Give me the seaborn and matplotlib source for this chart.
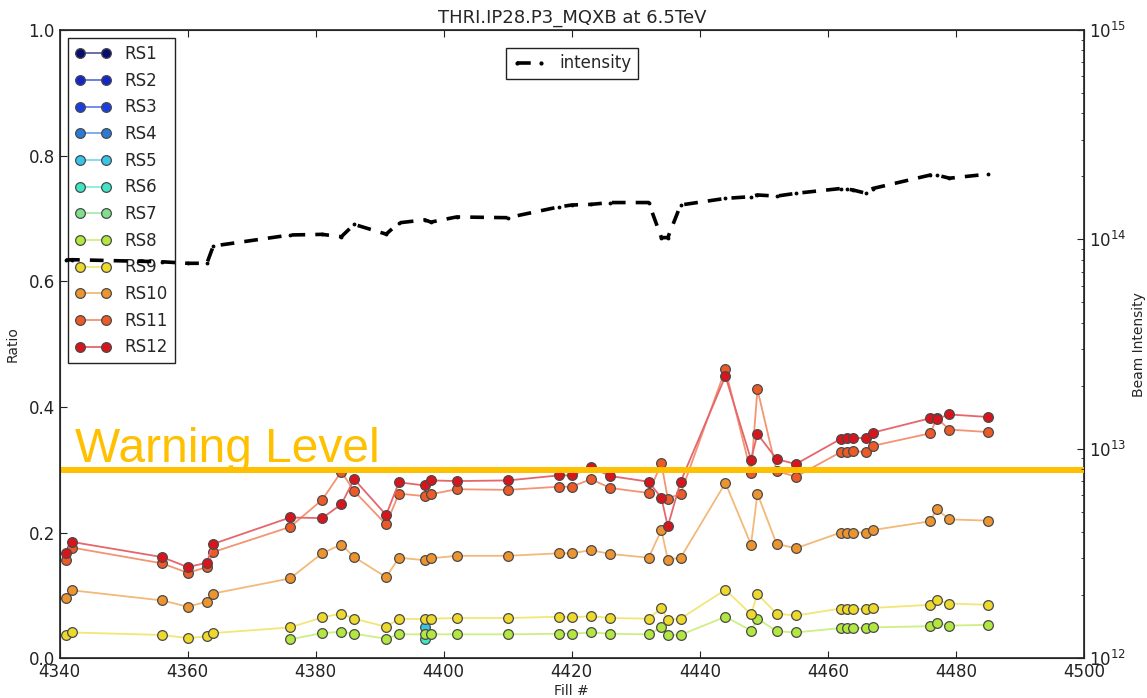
import numpy as np
import pandas as pd
import matplotlib
matplotlib.use("Agg")
import matplotlib.pyplot as plt
from matplotlib.lines import Line2D
from matplotlib.colors import to_rgb
import seaborn as sns

nan = np.nan

# fill numbers
fills = [4341, 4342, 4356, 4360, 4363, 4364, 4376, 4381, 4384, 4386, 4391, 4393,
         4397, 4398, 4402, 4410, 4418, 4420, 4423, 4426, 4432, 4434, 4435, 4437,
         4444, 4448, 4449, 4452, 4455, 4462, 4463, 4464, 4466, 4467, 4476, 4477,
         4479, 4485]

# ratio per sensor
rs12 = [0.168, 0.185, 0.161, 0.145, 0.152, 0.182, 0.224, 0.223, 0.245, 0.285, 0.228, 0.280,
        0.275, 0.283, 0.282, 0.283, 0.291, 0.291, 0.304, 0.290, 0.281, 0.255, 0.210, 0.281,
        0.449, 0.316, 0.357, 0.317, 0.309, 0.349, 0.350, 0.351, 0.350, 0.359, 0.382, 0.381,
        0.388, 0.384]
rs11 = [0.156, 0.176, 0.151, 0.136, 0.145, 0.169, 0.209, 0.252, 0.297, 0.266, 0.213, 0.262,
        0.258, 0.261, 0.269, 0.268, 0.273, 0.273, 0.285, 0.271, 0.263, 0.310, 0.254, 0.262,
        0.460, 0.295, 0.428, 0.298, 0.289, 0.328, 0.328, 0.330, 0.328, 0.338, 0.358, 0.382,
        0.364, 0.360]
rs10 = [0.096, 0.108, 0.092, 0.082, 0.090, 0.103, 0.127, 0.167, 0.181, 0.161, 0.129, 0.160,
        0.156, 0.159, 0.163, 0.163, 0.167, 0.167, 0.172, 0.166, 0.160, 0.204, 0.157, 0.160,
        0.279, 0.181, 0.262, 0.182, 0.175, 0.200, 0.200, 0.200, 0.200, 0.204, 0.218, 0.237,
        0.221, 0.219]
rs9 = [0.037, 0.041, 0.037, 0.032, 0.035, 0.040, 0.049, 0.065, 0.071, 0.063, 0.050, 0.063,
       0.062, 0.063, 0.064, 0.064, 0.066, 0.065, 0.067, 0.064, 0.063, 0.080, 0.061, 0.063,
       0.109, 0.070, 0.102, 0.071, 0.068, 0.079, 0.079, 0.079, 0.078, 0.080, 0.085, 0.092,
       0.087, 0.085]
rs8 = [nan, nan, nan, nan, nan, nan, 0.030, 0.040, 0.042, 0.039, 0.031, 0.038,
       0.038, 0.038, 0.038, 0.038, 0.039, 0.039, 0.041, 0.039, 0.038, 0.049, 0.037, 0.037,
       0.066, 0.044, 0.063, 0.043, 0.041, 0.048, 0.048, 0.048, 0.048, 0.049, 0.051, 0.056,
       0.052, 0.053]
# only one reading (fill 4397) for these
rs5 = [nan] * 12 + [0.050] + [nan] * 25
rs6 = [nan] * 12 + [0.031] + [nan] * 25
empty = [nan] * 38

# beam intensity (right axis)
intensity = [7.97e13, 8.0e13, 7.82e13, 7.69e13, 7.69e13, 9.3e13, 1.05e14, 1.057e14, 1.03e14,
             1.18e14, 1.06e14, 1.20e14, 1.24e14, 1.21e14, 1.28e14, 1.27e14, 1.43e14, 1.46e14,
             1.47e14, 1.50e14, 1.50e14, 1.02e14, 1.02e14, 1.46e14, 1.57e14, 1.60e14, 1.63e14,
             1.61e14, 1.66e14, 1.75e14, 1.74e14, 1.72e14, 1.66e14, 1.75e14, 2.03e14, 2.03e14,
             1.96e14, 2.05e14]

names = ["RS%d" % i for i in range(1, 13)]
series = [empty, empty, empty, empty, rs5, rs6, empty, rs8, rs9, rs10, rs11, rs12]
colors = ["#0a0f6e", "#1426c8", "#1c3ee0", "#2a7ad8", "#38c4e6", "#40e6c4",
          "#7ee08a", "#b2e640", "#ecd92c", "#ec9430", "#ec5a28", "#d8141c"]
warning_level = 0.3

sns.set_style("ticks")
plt.rcParams["font.family"] = ["DejaVu Sans"]

fig, ax = plt.subplots(figsize=(11.47, 6.98), dpi=100)
fig.subplots_adjust(left=0.052, right=0.945, top=0.957, bottom=0.057)


def lighter(c, f=0.35):
    r, g, b = to_rgb(c)
    return (r + (1 - r) * f, g + (1 - g) * f, b + (1 - b) * f)


handles = []
for name, vals, c in zip(names, series, colors):
    df = pd.DataFrame({"fill": fills, "ratio": vals}).dropna()
    if len(df):
        sns.lineplot(data=df, x="fill", y="ratio", ax=ax, color=lighter(c),
                     marker="o", markersize=7, markerfacecolor=c,
                     markeredgecolor="#4a4a4a", markeredgewidth=0.9,
                     linewidth=1.3, legend=False, zorder=3)
    handles.append(Line2D([], [], color=lighter(c), lw=1.3, marker="o", markersize=7,
                          markerfacecolor=c, markeredgecolor="#4a4a4a",
                          markeredgewidth=0.9, label=name))

# warning threshold and its label
ax.axhline(warning_level, color="#ffc000", lw=4.3, zorder=10)
ax.text(0.015, warning_level + 0.012, "Warning Level", color="#ffc000", fontsize=34.5,
        family=["Liberation Sans", "DejaVu Sans"], va="baseline", ha="left",
        transform=ax.get_yaxis_transform(), zorder=10)

ax.set_xlim(4340, 4500)
ax.set_ylim(0, 1.0)
ax.set_xticks(range(4340, 4501, 20))
ax.set_yticks([0.0, 0.2, 0.4, 0.6, 0.8, 1.0])
ax.set_xlabel("Fill #", fontsize=10, labelpad=2)
ax.set_ylabel("Ratio", fontsize=10, labelpad=6)
ax.set_title("THRI.IP28.P3_MQXB at 6.5TeV", fontsize=13, pad=5)
ax.tick_params(direction="in", top=True, labelsize=12, length=5, colors="#222222")
for s in ax.spines.values():
    s.set_color("#222222")
    s.set_linewidth(1.2)

leg = ax.legend(handles=handles, loc="upper left", fontsize=12, numpoints=2,
                labelspacing=0.52, handlelength=2.2, fancybox=False,
                edgecolor="#222222", framealpha=1)
leg.set_zorder(5)

ax2 = ax.twinx()
ax2.set_yscale("log")
sns.lineplot(x=fills, y=intensity, ax=ax2, color="black", lw=2.6,
             linestyle=(0, (3.8, 2.8)), marker=".", markersize=4,
             markeredgecolor="black", legend=False)
ax2.set_ylim(1e12, 1e15)
ax2.set_ylabel("Beam Intensity", fontsize=10, labelpad=4)
ax2.tick_params(which="both", direction="in", labelsize=12, colors="#222222")
ax2.tick_params(which="major", length=5)
ax2.tick_params(which="minor", length=2.5)
ax2.legend(handles=[Line2D([], [], color="black", lw=2.6, linestyle=(0, (3.8, 2.8)),
                           marker=".", markersize=4, label="intensity")],
           loc="upper center", fontsize=12, numpoints=2, fancybox=False,
           edgecolor="#222222", framealpha=1, bbox_to_anchor=(0.5, 0.985))

fig.savefig("out.png", dpi=100)
